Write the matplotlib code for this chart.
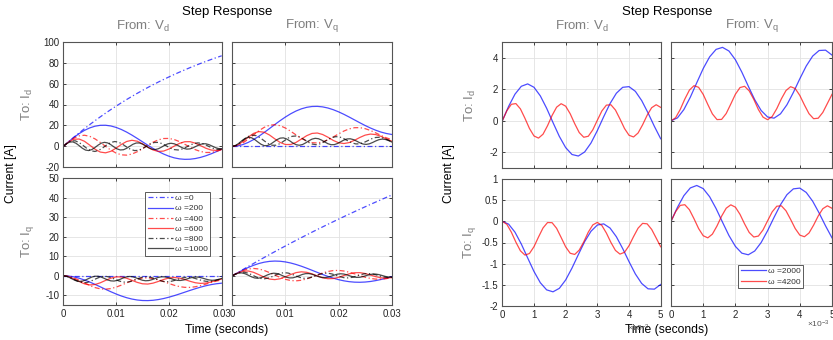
import matplotlib
matplotlib.use('Agg')
import matplotlib.pyplot as plt
import numpy as np
from matplotlib.ticker import FuncFormatter

plt.rcParams['font.family'] = ['Liberation Sans', 'DejaVu Sans']
plt.rcParams['mathtext.default'] = 'regular'
plt.rcParams['axes.unicode_minus'] = False

# ---------------- low speed sweep, time in ms (0 .. 30 ms) ----------------
t_1ms = list(range(31))
t_ends = [0, 30]
t_075ms = [0, 0.75, 1.5, 2.25, 3, 3.75, 4.5, 5.25, 6, 6.75, 7.5, 8.25, 9, 9.75,
           10.5, 11.25, 12, 12.75, 13.5, 14.25, 15, 15.75, 16.5, 17.25, 18, 18.75,
           19.5, 20.25, 21, 21.75, 22.5, 23.25, 24, 24.75, 25.5, 26.25, 27, 27.75,
           28.5, 29.25, 30]
t_06ms = [0, 0.6, 1.2, 1.8, 2.4, 3, 3.6, 4.2, 4.8, 5.4, 6, 6.6, 7.2, 7.8, 8.4, 9,
          9.6, 10.2, 10.8, 11.4, 12, 12.6, 13.2, 13.8, 14.4, 15, 15.6, 16.2, 16.8,
          17.4, 18, 18.6, 19.2, 19.8, 20.4, 21, 21.6, 22.2, 22.8, 23.4, 24, 24.6,
          25.2, 25.8, 26.4, 27, 27.6, 28.2, 28.8, 29.4, 30]

speeds_low = [0, 200, 400, 600, 800, 1000]

# From Vd to Id
vd_id_w0 = [0, 4.42, 8.71, 12.85, 16.87, 20.76, 24.53, 28.17, 31.71, 35.13, 38.44,
            41.65, 44.76, 47.77, 50.68, 53.50, 56.24, 58.88, 61.45, 63.92, 66.33,
            68.66, 70.91, 73.09, 75.21, 77.25, 79.24, 81.16, 83.02, 84.81, 86.56]
vd_id_w200 = [0, 4.43, 8.54, 12.18, 15.25, 17.63, 19.26, 20.11, 20.18, 19.49, 18.11,
              16.12, 13.63, 10.75, 7.61, 4.36, 1.11, -2.00, -4.85, -7.35, -9.40,
              -10.95, -11.95, -12.39, -12.28, -11.64, -10.52, -8.99, -7.12, -5.00, -2.72]
vd_id_w400 = [0, 4.32, 7.83, 10.03, 10.63, 9.60, 7.18, 3.79, 0.00, -3.58, -6.42,
              -8.09, -8.39, -7.33, -5.14, -2.19, 1.02, 3.98, 6.25, 7.50, 7.58,
              6.53, 4.56, 2.01, -0.70, -3.14, -4.91, -5.84, -5.80, -4.83, -3.01]
vd_id_w600 = [0, 4.17, 6.79, 7.01, 4.88, 1.20, -2.68, -5.44, -6.17, -4.72, -1.66,
              1.88, 4.68, 5.80, 4.93, 2.46, -0.70, -3.45, -4.84, -4.50, -2.56,
              0.21, 2.84, 4.44, 4.49, 3.05, 0.67, -1.79, -3.49, -3.88, -2.88]
vd_id_w800 = [0, 3.14, 5.13, 5.31, 3.69, 0.88, -2.12, -4.27, -4.86, -3.73, -1.33,
              1.48, 3.72, 4.63, 3.95, 1.95, -0.63, -2.88, -4.03, -3.76, -2.16,
              0.16, 2.37, 3.73, 3.79, 2.56, 0.52, -1.61, -3.09, -3.44, -2.57,
              -0.81, 1.19, 2.74, 3.33, 2.78, 1.32, -0.53, -2.11, -2.89, -2.62]
vd_id_w1000 = [0, 2.52, 4.12, 4.28, 2.97, 0.69, -1.76, -3.52, -4.00, -3.08, -1.10,
               1.23, 3.08, 3.85, 3.28, 1.61, -0.55, -2.46, -3.43, -3.21, -1.85,
               0.13, 2.03, 3.20, 3.25, 2.20, 0.43, -1.43, -2.73, -3.04, -2.27,
               -0.73, 1.04, 2.43, 2.96, 2.47, 1.16, -0.50, -1.93, -2.64, -2.40,
               -1.33, 0.20, 1.63, 2.48, 2.47, 1.63, 0.26, -1.15, -2.11, -2.30]

# From Vq to Id
vq_id_w0 = [0, 0]
vq_id_w200 = [0, 0.44, 1.73, 3.78, 6.47, 9.67, 13.24, 17.02, 20.85, 24.57, 28.05,
              31.16, 33.79, 35.85, 37.30, 38.09, 38.22, 37.72, 36.64, 35.03, 32.99,
              30.62, 28.01, 25.29, 22.56, 19.94, 17.53, 15.40, 13.63, 12.29, 11.38]
vq_id_w400 = [0, 0.88, 3.32, 6.88, 10.98, 14.93, 18.15, 20.16, 20.70, 19.75, 17.52,
              14.40, 10.93, 7.65, 5.05, 3.53, 3.26, 4.24, 6.26, 8.96, 11.90,
              14.62, 16.69, 17.83, 17.90, 16.93, 15.17, 12.88, 10.40, 8.16, 6.41]
vq_id_w600 = [0, 1.29, 4.65, 8.85, 12.40, 14.12, 13.51, 10.86, 7.17, 3.74, 1.75,
              1.80, 3.80, 6.98, 10.21, 12.36, 12.76, 11.34, 8.74, 5.69, 3.46,
              2.71, 3.62, 5.82, 8.50, 10.73, 11.75, 11.27, 9.52, 7.15, 4.99]
vq_id_w800 = [0, 0.97, 3.51, 6.70, 9.41, 10.74, 10.26, 8.20, 5.32, 2.63, 1.06,
              1.10, 2.70, 5.25, 7.85, 9.60, 9.92, 8.76, 6.62, 4.09, 2.24,
              1.61, 2.38, 4.24, 6.52, 8.42, 9.30, 8.88, 7.36, 5.29, 3.40,
              2.33, 2.43, 3.63, 5.47, 7.31, 8.51, 8.68, 7.79, 6.19, 4.44]
vq_id_w1000 = [0, 0.78, 2.82, 5.39, 7.59, 8.66, 8.27, 6.59, 4.23, 2.02, 0.72,
               0.76, 2.09, 4.21, 6.38, 7.85, 8.12, 7.13, 5.32, 3.18, 1.60,
               1.06, 1.72, 3.32, 5.29, 6.93, 7.69, 7.33, 6.01, 4.19, 2.53,
               1.59, 1.67, 2.73, 4.38, 6.02, 7.09, 7.25, 6.45, 5.00, 3.41,
               2.24, 1.88, 2.43, 3.68, 5.18, 6.41, 6.95, 6.62, 5.58, 4.18]

# From Vd to Iq
vd_iq_w0 = [0, 0]
vd_iq_w200 = [0, -0.15, -0.58, -1.26, -2.16, -3.22, -4.41, -5.67, -6.95, -8.19, -9.35,
              -10.39, -11.26, -11.95, -12.43, -12.70, -12.74, -12.58, -12.21, -11.68,
              -11.00, -10.21, -9.34, -8.43, -7.52, -6.65, -5.84, -5.13, -4.54, -4.10,
              -3.80]
vd_iq_w400 = [0, -0.29, -1.11, -2.29, -3.66, -4.98, -6.05, -6.72, -6.90, -6.58, -5.84,
              -4.80, -3.64, -2.55, -1.68, -1.18, -1.09, -1.41, -2.09, -2.99, -3.97,
              -4.87, -5.56, -5.94, -5.97, -5.64, -5.06, -4.29, -3.47, -2.72, -2.14]
vd_iq_w600 = [0, -0.43, -1.55, -2.95, -4.13, -4.71, -4.50, -3.62, -2.39, -1.25, -0.58,
              -0.60, -1.27, -2.33, -3.40, -4.12, -4.26, -3.78, -2.92, -1.90, -1.16,
              -0.90, -1.21, -1.94, -2.83, -3.58, -3.92, -3.76, -3.17, -2.38, -1.66]
vd_iq_w800 = [0, -0.32, -1.17, -2.23, -3.14, -3.58, -3.42, -2.73, -1.77, -0.88, -0.35,
              -0.37, -0.90, -1.75, -2.62, -3.20, -3.31, -2.92, -2.21, -1.36, -0.75,
              -0.54, -0.79, -1.41, -2.17, -2.81, -3.10, -2.96, -2.45, -1.76, -1.13,
              -0.78, -0.81, -1.21, -1.82, -2.44, -2.84, -2.89, -2.60, -2.06, -1.48]
vd_iq_w1000 = [0, -0.26, -0.94, -1.80, -2.53, -2.89, -2.76, -2.20, -1.41, -0.67, -0.24,
               -0.25, -0.70, -1.40, -2.13, -2.62, -2.71, -2.38, -1.78, -1.06, -0.53,
               -0.35, -0.57, -1.11, -1.76, -2.31, -2.57, -2.45, -2.00, -1.40, -0.84,
               -0.53, -0.56, -0.91, -1.46, -2.01, -2.37, -2.42, -2.15, -1.67, -1.14,
               -0.75, -0.63, -0.81, -1.23, -1.73, -2.14, -2.32, -2.21, -1.86, -1.39]

# From Vq to Iq
vq_iq_w0 = [0, 1.60, 3.19, 4.76, 6.31, 7.85, 9.37, 10.88, 12.36, 13.84, 15.29,
            16.74, 18.17, 19.58, 20.97, 22.36, 23.72, 25.07, 26.41, 27.73, 29.05,
            30.34, 31.62, 32.89, 34.14, 35.38, 36.61, 37.82, 39.03, 40.22, 41.40]
vq_iq_w200 = [0, 1.51, 2.94, 4.24, 5.37, 6.29, 6.96, 7.38, 7.54, 7.44, 7.10,
              6.54, 5.79, 4.90, 3.89, 2.82, 1.73, 0.66, -0.34, -1.23, -2.00,
              -2.60, -3.03, -3.28, -3.34, -3.22, -2.93, -2.48, -1.92, -1.25, -0.51]
vq_iq_w400 = [0, 1.46, 2.68, 3.48, 3.75, 3.48, 2.72, 1.63, 0.37, -0.85, -1.83,
              -2.45, -2.61, -2.31, -1.63, -0.67, 0.40, 1.41, 2.20, 2.67, 2.75,
              2.44, 1.82, 0.99, 0.09, -0.75, -1.37, -1.72, -1.75, -1.47, -0.89]
vq_iq_w600 = [0, 1.41, 2.32, 2.45, 1.77, 0.57, -0.73, -1.69, -1.98, -1.53, -0.53,
              0.65, 1.61, 2.02, 1.77, 0.97, -0.08, -1.02, -1.51, -1.43, -0.81,
              0.10, 0.99, 1.55, 1.60, 1.15, 0.36, -0.46, -1.05, -1.21, -0.90]
vq_iq_w800 = [0, 1.06, 1.74, 1.83, 1.32, 0.39, -0.62, -1.35, -1.57, -1.22, -0.43,
              0.51, 1.26, 1.59, 1.39, 0.74, -0.12, -0.88, -1.29, -1.22, -0.70,
              0.07, 0.81, 1.28, 1.32, 0.93, 0.26, -0.46, -0.97, -1.10, -0.83,
              -0.25, 0.42, 0.95, 1.16, 0.99, 0.52, -0.10, -0.63, -0.91, -0.84]
vq_iq_w1000 = [0, 0.85, 1.39, 1.46, 1.04, 0.29, -0.53, -1.13, -1.30, -1.01, -0.36,
               0.41, 1.04, 1.31, 1.14, 0.59, -0.13, -0.77, -1.11, -1.05, -0.61,
               0.05, 0.69, 1.09, 1.12, 0.78, 0.20, -0.42, -0.87, -0.98, -0.74,
               -0.23, 0.36, 0.83, 1.02, 0.87, 0.44, -0.12, -0.60, -0.84, -0.78,
               -0.43, 0.08, 0.56, 0.85, 0.86, 0.59, 0.14, -0.34, -0.66, -0.74]

# ---------------- high speed sweep, time in ms (0 .. 5 ms) ----------------
speeds_high = [2000, 4200]
t_02ms = [0, 0.2, 0.4, 0.6, 0.8, 1.0, 1.2, 1.4, 1.6, 1.8, 2.0, 2.2, 2.4, 2.6,
          2.8, 3.0, 3.2, 3.4, 3.6, 3.8, 4.0, 4.2, 4.4, 4.6, 4.8, 5.0]
t_fine = [0, 0.1429, 0.2857, 0.4286, 0.5714, 0.7143, 0.8571, 1.0, 1.1429, 1.2857,
          1.4286, 1.5714, 1.7143, 1.8571, 2.0, 2.1429, 2.2857, 2.4286, 2.5714,
          2.7143, 2.8571, 3.0, 3.1429, 3.2857, 3.4286, 3.5714, 3.7143, 3.8571,
          4.0, 4.1429, 4.2857, 4.4286, 4.5714, 4.7143, 4.8571, 5.0]

vd_id_w2000 = [0, 0.917, 1.684, 2.182, 2.334, 2.120, 1.577, 0.792, -0.108, -0.982,
               -1.692, -2.128, -2.224, -1.967, -1.401, -0.618, 0.258, 1.088, 1.742,
               2.118, 2.160, 1.864, 1.280, 0.501, -0.348, -1.133]
vq_id_w2000 = [0, 0.186, 0.712, 1.494, 2.405, 3.302, 4.043, 4.514, 4.642, 4.411,
               3.860, 3.077, 2.190, 1.336, 0.652, 0.242, 0.168, 0.441, 1.013,
               1.792, 2.655, 3.463, 4.092, 4.444, 4.465, 4.155]
vd_iq_w2000 = [0, -0.067, -0.256, -0.536, -0.863, -1.184, -1.450, -1.619, -1.665,
               -1.583, -1.385, -1.104, -0.786, -0.479, -0.234, -0.087, -0.060,
               -0.158, -0.363, -0.643, -0.952, -1.243, -1.468, -1.594, -1.602, -1.491]
vq_iq_w2000 = [0, 0.330, 0.607, 0.789, 0.847, 0.773, 0.581, 0.302, -0.021, -0.336,
               -0.592, -0.752, -0.790, -0.701, -0.500, -0.221, 0.093, 0.392, 0.629,
               0.767, 0.785, 0.682, 0.475, 0.197, -0.108, -0.390]

vd_id_w4200 = [0, 0.634, 1.044, 1.089, 0.756, 0.162, -0.483, -0.956, -1.091, -0.845,
               -0.305, 0.339, 0.862, 1.082, 0.926, 0.448, -0.181, -0.743, -1.038,
               -0.975, -0.567, 0.036, 0.624, 0.992, 1.014, 0.683, 0.118, -0.484,
               -0.913, -1.020, -0.770, -0.252, 0.351, 0.829, 1.017, 0.850]
vq_id_w4200 = [0, 0.196, 0.714, 1.373, 1.941, 2.221, 2.118, 1.670, 1.035, 0.435,
               0.079, 0.090, 0.461, 1.061, 1.680, 2.102, 2.181, 1.892, 1.355,
               0.712, 0.235, 0.070, 0.274, 0.773, 1.392, 1.914, 2.158, 2.041,
               1.606, 1.006, 0.451, 0.135, 0.165, 0.529, 1.099, 1.674]
vd_iq_w4200 = [0, -0.070, -0.256, -0.492, -0.696, -0.797, -0.760, -0.599, -0.371,
               -0.156, -0.028, -0.032, -0.165, -0.381, -0.603, -0.754, -0.782,
               -0.679, -0.486, -0.255, -0.084, -0.025, -0.098, -0.277, -0.499,
               -0.687, -0.774, -0.732, -0.576, -0.361, -0.162, -0.048, -0.059,
               -0.190, -0.394, -0.601]
vq_iq_w4200 = [0, 0.228, 0.376, 0.393, 0.275, 0.062, -0.170, -0.340, -0.390, -0.302,
               -0.109, 0.122, 0.310, 0.390, 0.335, 0.165, -0.061, -0.263, -0.370,
               -0.348, -0.203, 0.013, 0.224, 0.357, 0.366, 0.249, 0.046, -0.170,
               -0.325, -0.364, -0.276, -0.090, 0.126, 0.298, 0.367, 0.308]

# ---------------- drawing ----------------
W, H = 833, 340
fig = plt.figure(figsize=(W / 100, H / 100), dpi=100)
fig.patch.set_facecolor('white')

DASHDOT = (0, (4, 2, 1, 2))
line_style = {
    0: ('#0000ff', DASHDOT), 200: ('#0000ff', '-'),
    400: ('#ff0000', DASHDOT), 600: ('#ff0000', '-'),
    800: ('#000000', DASHDOT), 1000: ('#000000', '-'),
    2000: ('#0000ff', '-'), 4200: ('#ff0000', '-'),
}
GRAY = '#7f7f7f'
fmt = FuncFormatter(lambda v, p: '%g' % v)


def add_panel(x0, y0, x1, y1):
    # box given in pixels from the top-left corner of the figure
    ax = fig.add_axes([x0 / W, 1 - y1 / H, (x1 - x0) / W, (y1 - y0) / H])
    ax.grid(True, color='#e2e2e2', linewidth=0.6)
    ax.set_axisbelow(True)
    for sp in ax.spines.values():
        sp.set_color('#555555')
        sp.set_linewidth(0.8)
    ax.tick_params(direction='in', length=2.5, width=0.6, colors='#262626',
                   labelsize=7, top=True, right=True, pad=3)
    ax.yaxis.set_major_formatter(fmt)
    return ax


def fig_text(x, y, s, **kw):
    fig.text(x / W, 1 - y / H, s, **kw)


def draw(ax, series, speeds, scale):
    handles = []
    for (t, y), w in zip(series, speeds):
        color, ls = line_style[w]
        h, = ax.plot(np.array(t) * scale, y, color=color, linestyle=ls,
                     linewidth=0.9, alpha=0.7, label='ω =%d' % w)
        handles.append(h)
    return handles


def add_legend(ax, handles, box, corner):
    (x0, x1), (y0, y1) = box
    leg = ax.legend(handles=handles, loc='upper left',
                    bbox_to_anchor=((corner[0] - x0) / (x1 - x0),
                                    1 - (corner[1] - y0) / (y1 - y0)),
                    fontsize=6, handlelength=3.0, handletextpad=0.3,
                    labelspacing=0.28, borderpad=0.3, borderaxespad=0,
                    fancybox=False, framealpha=1)
    leg.get_frame().set_edgecolor('#404040')
    leg.get_frame().set_linewidth(0.6)
    for txt in leg.get_texts():
        txt.set_color('#333333')


# left figure: 0 .. 1000 rad/s
cols_l = [(63.3, 221.7), (232.3, 391.7)]
rows_l = [(41.7, 167.3), (178.3, 305.0)]
panels_l = {
    (0, 0): [(t_1ms, vd_id_w0), (t_1ms, vd_id_w200), (t_1ms, vd_id_w400),
             (t_1ms, vd_id_w600), (t_075ms, vd_id_w800), (t_06ms, vd_id_w1000)],
    (0, 1): [(t_ends, vq_id_w0), (t_1ms, vq_id_w200), (t_1ms, vq_id_w400),
             (t_1ms, vq_id_w600), (t_075ms, vq_id_w800), (t_06ms, vq_id_w1000)],
    (1, 0): [(t_ends, vd_iq_w0), (t_1ms, vd_iq_w200), (t_1ms, vd_iq_w400),
             (t_1ms, vd_iq_w600), (t_075ms, vd_iq_w800), (t_06ms, vd_iq_w1000)],
    (1, 1): [(t_1ms, vq_iq_w0), (t_1ms, vq_iq_w200), (t_1ms, vq_iq_w400),
             (t_1ms, vq_iq_w600), (t_075ms, vq_iq_w800), (t_06ms, vq_iq_w1000)],
}
for (r, c), series in panels_l.items():
    ax = add_panel(cols_l[c][0], rows_l[r][0], cols_l[c][1], rows_l[r][1])
    handles = draw(ax, series, speeds_low, 1e-3)
    ax.set_xlim(0, 0.03)
    ax.set_xticks([0, 0.01, 0.02, 0.03])
    if r == 0:
        ax.set_ylim(-20, 100)
        ax.set_yticks([-20, 0, 20, 40, 60, 80, 100])
        ax.tick_params(labelbottom=False)
    else:
        ax.set_ylim(-15, 50)
        ax.set_yticks([-10, 0, 10, 20, 30, 40, 50])
        ax.set_xticklabels(['0', '0.01', '0.02', '0.03'])
    if c == 1:
        ax.tick_params(labelleft=False)
    if (r, c) == (1, 0):
        add_legend(ax, handles, (cols_l[0], rows_l[1]), (145, 192))

# right figure: 2000 and 4200 rad/s
cols_r = [(502.3, 660.7), (671.0, 832.0)]
rows_r = [(41.7, 168.3), (179.0, 306.0)]
panels_r = {
    (0, 0): [(t_02ms, vd_id_w2000), (t_fine, vd_id_w4200)],
    (0, 1): [(t_02ms, vq_id_w2000), (t_fine, vq_id_w4200)],
    (1, 0): [(t_02ms, vd_iq_w2000), (t_fine, vd_iq_w4200)],
    (1, 1): [(t_02ms, vq_iq_w2000), (t_fine, vq_iq_w4200)],
}
for (r, c), series in panels_r.items():
    ax = add_panel(cols_r[c][0], rows_r[r][0], cols_r[c][1], rows_r[r][1])
    handles = draw(ax, series, speeds_high, 1.0)
    ax.set_xlim(0, 5)
    ax.set_xticks([0, 1, 2, 3, 4, 5])
    ax.xaxis.set_major_formatter(fmt)
    if r == 0:
        ax.set_ylim(-3, 5)
        ax.set_yticks([-2, 0, 2, 4])
        ax.tick_params(labelbottom=False)
    else:
        ax.set_ylim(-2, 1)
        ax.set_yticks([-2, -1.5, -1, -0.5, 0, 0.5, 1])
    if c == 1:
        ax.tick_params(labelleft=False)
    if (r, c) == (1, 1):
        add_legend(ax, handles, (cols_r[1], rows_r[1]), (738, 265))

# titles and axis annotations for both figures
for cols, rows, xc, x_to, x_cur in [(cols_l, rows_l, 227, 27, 11),
                                    (cols_r, rows_r, 667, 470, 449)]:
    fig_text(xc, 12, 'Step Response', ha='center', va='center', fontsize=9.5)
    fig_text(sum(cols[0]) / 2, 26, 'From: V$_d$', ha='center', va='center',
             fontsize=9.5, color=GRAY)
    fig_text(sum(cols[1]) / 2, 26, 'From: V$_q$', ha='center', va='center',
             fontsize=9.5, color=GRAY)
    fig_text(x_to, sum(rows[0]) / 2, 'To: I$_d$', ha='center', va='center',
             rotation=90, fontsize=9.5, color=GRAY)
    fig_text(x_to, sum(rows[1]) / 2, 'To: I$_q$', ha='center', va='center',
             rotation=90, fontsize=9.5, color=GRAY)
    fig_text(x_cur, (rows[0][0] + rows[1][1]) / 2, 'Current [A]', ha='center',
             va='center', rotation=90, fontsize=8.7)
    fig_text(xc, 330, 'Time (seconds)', ha='center', va='center', fontsize=8.7)

fig_text(830, 324, '×10$^{-3}$', ha='right', va='center', fontsize=6, color='#555555')
fig_text(650, 328, '×10$^{-3}$', ha='right', va='center', fontsize=6, color='#555555')

fig.savefig('out.png', dpi=100, facecolor='white')
